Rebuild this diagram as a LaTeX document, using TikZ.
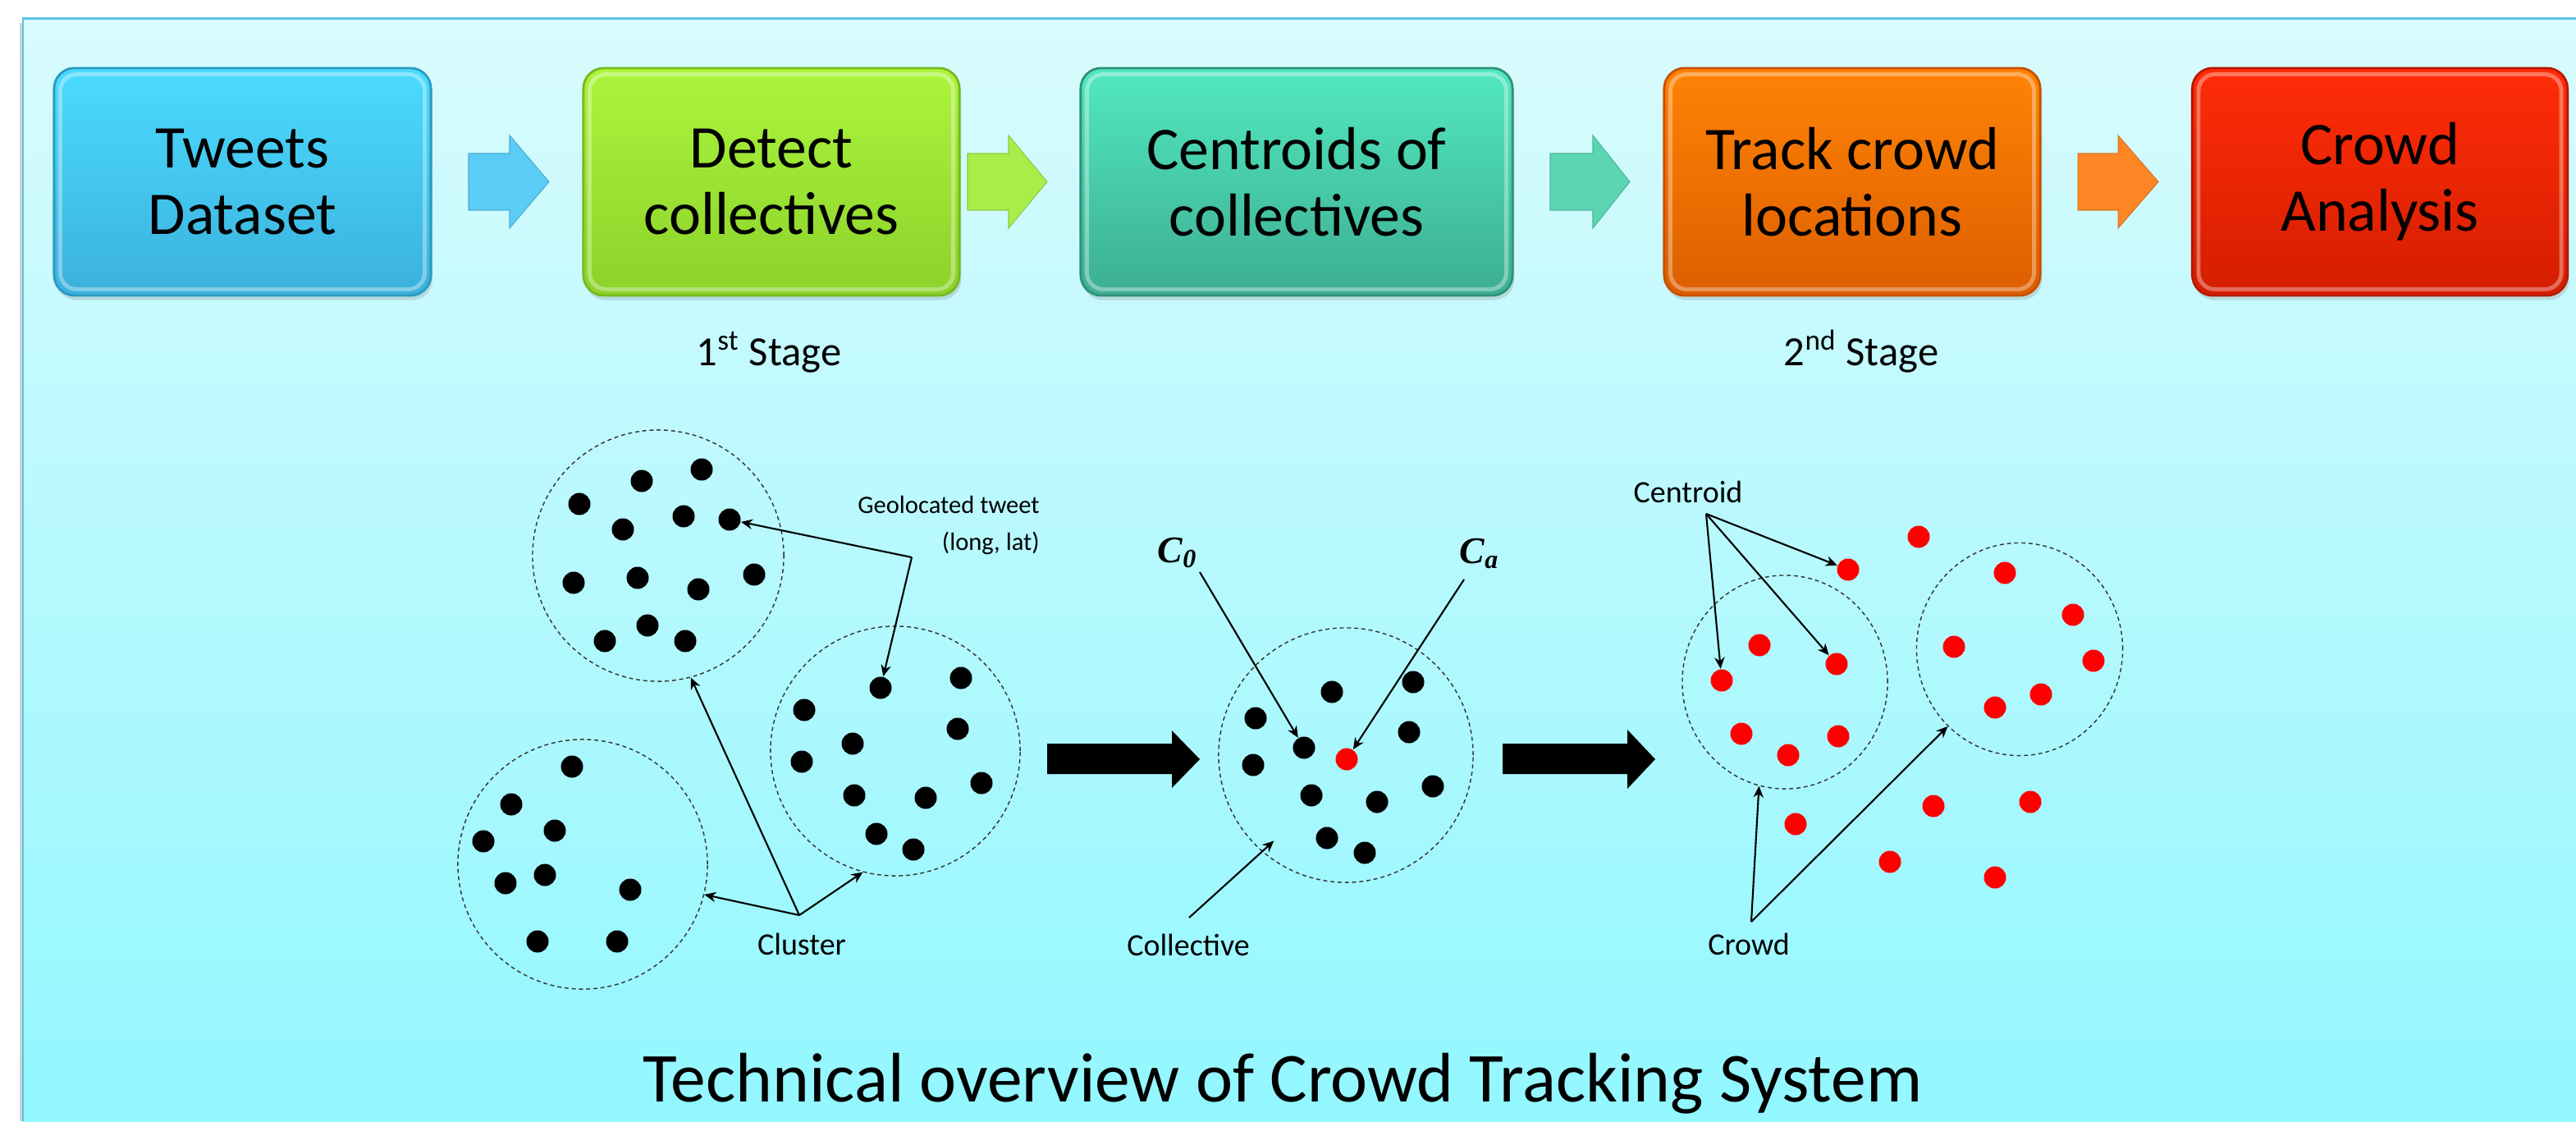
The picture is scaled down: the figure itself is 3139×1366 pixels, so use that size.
\documentclass[tikz,border=0pt]{standalone}
\usepackage{fontspec}
\setmainfont{Carlito}
\newfontfamily\timesf{Liberation Serif}
\usetikzlibrary{shapes.geometric,arrows.meta,shadows,calc}
\definecolor{panelTop}{HTML}{D9FBFD}
\definecolor{panelBot}{HTML}{92F7FF}
\definecolor{panelBorder}{HTML}{5BC3EA}
\definecolor{bAtop}{HTML}{4BDBFE}\definecolor{bAbot}{HTML}{3BB1DD}\definecolor{bAdr}{HTML}{2C9AC0}
\definecolor{bBtop}{HTML}{ABF53D}\definecolor{bBbot}{HTML}{8CD22A}\definecolor{bBdr}{HTML}{78B820}
\definecolor{bCtop}{HTML}{52E8C0}\definecolor{bCbot}{HTML}{3DAE93}\definecolor{bCdr}{HTML}{2E9278}
\definecolor{bDtop}{HTML}{FF8305}\definecolor{bDbot}{HTML}{DC5E00}\definecolor{bDdr}{HTML}{C85000}
\definecolor{bEtop}{HTML}{FF2C08}\definecolor{bEbot}{HTML}{D41E00}\definecolor{bEdr}{HTML}{B81800}
\definecolor{arA}{HTML}{5BCCF6}
\definecolor{arB}{HTML}{A8EE4A}
\definecolor{arC}{HTML}{5CD5B3}
\definecolor{arD}{HTML}{FF8624}
\definecolor{ringc}{HTML}{333333}
\begin{document}
\begin{tikzpicture}[x=0.01cm,y=-0.01cm,
  stepbox/.style={rounded corners=0.25cm, minimum height=2.77cm, inner sep=0pt, align=center,
     font=\fontsize{21pt}{23pt}\selectfont, line width=0.8pt,
     drop shadow={opacity=0.25, shadow xshift=0.6pt, shadow yshift=-1.6pt}},
  gloss/.style={white, opacity=0.35, line width=1.4pt, rounded corners=0.2cm},
  dot/.style={circle, fill=black, inner sep=0pt, minimum size=0.27cm},
  rdot/.style={circle, fill=red, inner sep=0pt, minimum size=0.27cm},
  ring/.style={circle, draw=ringc, dash pattern=on 1.4pt off 1.1pt, line width=0.4pt, inner sep=0pt},
  ering/.style={ellipse, draw=ringc, dash pattern=on 1.4pt off 1.1pt, line width=0.4pt, inner sep=0pt},
  lbl/.style={font=\fontsize{10.8pt}{13pt}\selectfont, inner sep=1pt},
  arr/.style={-{Stealth[length=4pt,width=3.5pt]}, line width=0.6pt},
  stagelbl/.style={font=\fontsize{14.4pt}{17pt}\selectfont, anchor=base},
  clbl/.style={font=\fontsize{13pt}{15pt}\timesf\bfseries\itshape, anchor=base}
]
\useasboundingbox (0,0) rectangle (3139,1366);
\fill[white] (0,0) rectangle (3139,1366);
\fill[black!18] (24,28) rectangle (28,1366);
\shade[top color=panelTop, bottom color=panelBot] (28,22) rectangle (3139,1366);
\draw[panelBorder, line width=0.85pt] (3139,22) -- (28,22) -- (28,1366);

% ---------- top flow ----------
\node[stepbox, minimum width=4.59cm, top color=bAtop, bottom color=bAbot, draw=bAdr] (b1) at (295.5,221.5) {Tweets\\Dataset};
\node[stepbox, minimum width=4.58cm, top color=bBtop, bottom color=bBbot, draw=bBdr] (b2) at (940,221.5) {Detect\\collectives};
\node[stepbox, minimum width=5.26cm, top color=bCtop, bottom color=bCbot, draw=bCdr] (b3) at (1580,221.5) {Centroids of\\collectives};
\node[stepbox, minimum width=4.58cm, top color=bDtop, bottom color=bDbot, draw=bDdr] (b4) at (2257,221.5) {Track crowd\\locations};
\node[stepbox, minimum width=4.57cm, top color=bEtop, bottom color=bEbot, draw=bEdr] (b5) at (2900,221.5) {Crowd\\Analysis};
\foreach \b in {b1,b2,b3,b4,b5}
  \draw[gloss] ($(\b.south west)+(9,-9)$) rectangle ($(\b.north east)+(-9,9)$);

\fill[arA, draw=arA!85!black, line width=0.3pt] (571,187) -- (621,187) -- (621,165) -- (669,221.5) -- (621,278) -- (621,256) -- (571,256) -- cycle;
\fill[arB, draw=arB!85!black, line width=0.3pt] (1179,187) -- (1229,187) -- (1229,165) -- (1276,221.5) -- (1229,278) -- (1229,256) -- (1179,256) -- cycle;
\fill[arC, draw=arC!85!black, line width=0.3pt] (1889,187) -- (1941,187) -- (1941,165) -- (1986,221.5) -- (1941,278) -- (1941,256) -- (1889,256) -- cycle;
\fill[arD, draw=arD!85!black, line width=0.3pt] (2532,187) -- (2581,187) -- (2581,165) -- (2630,221.5) -- (2581,278) -- (2581,256) -- (2532,256) -- cycle;

\node[stagelbl] (s1) at (937,445) {1\textsuperscript{st} Stage};
\node[stagelbl] (s2) at (2268,445) {2\textsuperscript{nd} Stage};

% ---------- clusters ----------
\node[ring, minimum size=3.06cm] (cA) at (802,677) {};
\node[ring, minimum size=3.04cm] (cC) at (710,1053) {};
\node[ring, minimum size=3.04cm] (cB) at (1091,915) {};

\foreach \p [count=\i] in {(855,572),(782,586),(706,614),(833,629),(889,633),(759,645),(699,710),(777,704),(851,718),(919,700),(789,762),(737,781),(835,781)}
  \node[dot] (a\i) at \p {};
\foreach \p [count=\i] in {(697,934),(623,980),(676,1012),(589,1025),(664,1066),(616,1076),(768,1084),(655,1147),(752,1147)}
  \node[dot] (c\i) at \p {};
\foreach \p [count=\i] in {(1073,838),(1171,826),(980,865),(1039,906),(1167,888),(977,928),(1196,954),(1041,969),(1128,972),(1068,1016),(1113,1035)}
  \node[dot] (k\i) at \p {};

\node[lbl, font=\fontsize{8.7pt}{13pt}\selectfont, align=right] (geo) at (1156,640) {Geolocated tweet\\(long, lat)};
\coordinate (geoP) at (1111,679);
\draw[arr] (geoP) -- (a5);
\draw[arr] (geoP) -- (k1);

\node[lbl] (clu) at (977,1150) {Cluster};
\coordinate (cluP) at (974,1115);
\draw[arr] (cluP) -- (cA.-75);
\draw[arr] (cluP) -- (cC.-14);
\draw[arr] (cluP) -- (cB.255);

\fill (1276,906) -- (1428,906) -- (1428,890) -- (1462,925) -- (1428,960) -- (1428,943) -- (1276,943) -- cycle;

% ---------- collective ----------
\node[ring, minimum size=3.1cm] (cD) at (1640,920) {};
\foreach \p [count=\i] in {(1623,843),(1722,831),(1530,875),(1717,892),(1589,911),(1527,932),(1746,958),(1598,969),(1678,977),(1617,1021),(1663,1039)}
  \node[dot] (d\i) at \p {};
\node[rdot] (dr) at (1641,925) {};

\node[clbl] (c0) at (1435,685) {C\textsubscript{0}};
\node[clbl] (ca) at (1803,686) {C\textsubscript{a}};
\coordinate (c0P) at (1462,697);
\coordinate (caP) at (1784,706);
\draw[arr] (c0P) -- (d5);
\draw[arr] (caP) -- (dr);

\node[lbl] (col) at (1448,1151) {Collective};
\coordinate (colP) at (1449,1118);
\draw[arr] (colP) -- ($(cD.center)!0.875!(cD.230)$);

\fill (1831,906) -- (1983,906) -- (1983,889) -- (2017,925) -- (1983,961) -- (1983,943) -- (1831,943) -- cycle;

% ---------- crowd ----------
\node[ering, minimum width=2.5cm, minimum height=2.6cm] (cE) at (2175,831) {};
\node[ering, minimum width=2.51cm, minimum height=2.59cm] (cF) at (2461,791) {};
\foreach \p [count=\i] in {(2338,654),(2252,694),(2443,698),(2526,749),(2144,786),(2238,809),(2381,788),(2551,805),(2098,829),(2487,846),(2431,862),(2122,894),(2240,897),(2179,920),(2356,982),(2474,977),(2188,1004),(2303,1050),(2431,1069)}
  \node[rdot] (r\i) at \p {};

\node[lbl] (cen) at (2057,599) {Centroid};
\coordinate (cenP) at (2079,626);
\draw[arr] (cenP) -- (r2);
\draw[arr] (cenP) -- (r9);
\draw[arr] (cenP) -- (r6);

\node[lbl] (cro) at (2131,1150) {Crowd};
\coordinate (croP) at (2134,1123);
\draw[arr] (croP) -- (cE.256);
\draw[arr] (croP) -- (cF.227);

% ---------- title ----------
\node[font=\fontsize{24.3pt}{28pt}\selectfont, anchor=base] (title) at (1563,1342) {Technical overview of Crowd Tracking System};
\end{tikzpicture}
\end{document}
